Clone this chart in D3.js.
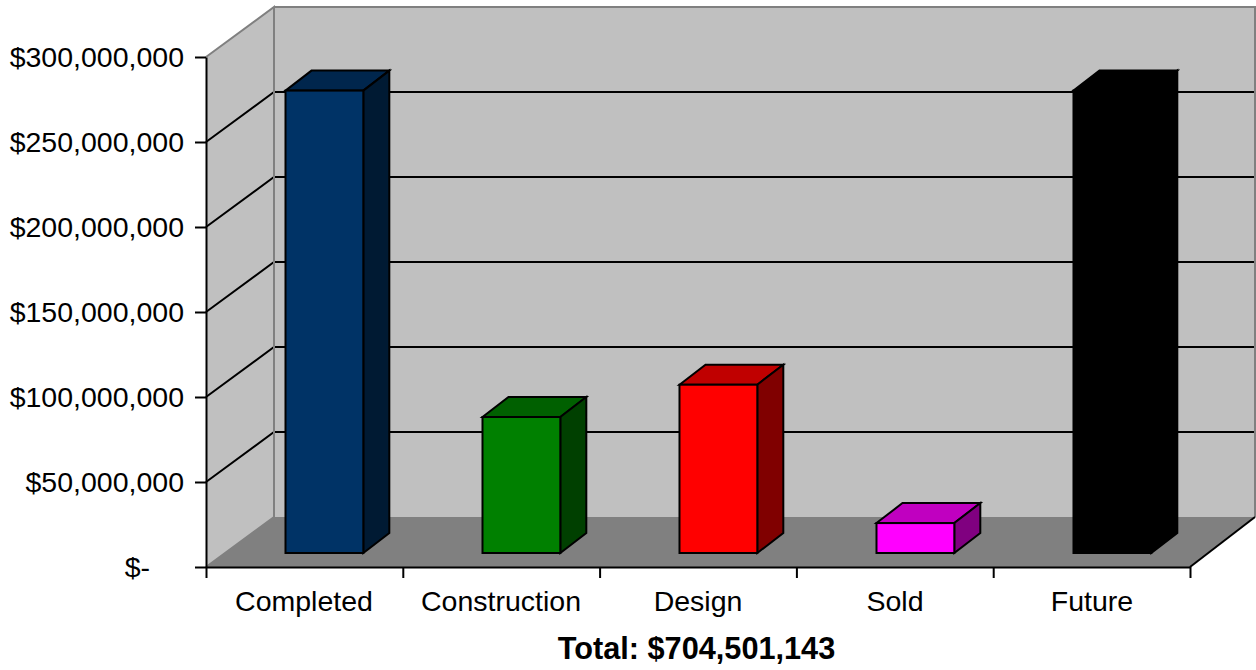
<!DOCTYPE html>
<html>
<head>
<meta charset="utf-8">
<script src="https://cdn.jsdelivr.net/npm/d3@7"></script>
<style>
  html, body { margin: 0; padding: 0; background: #fff; }
  svg { display: block; }
  text { font-family: "Liberation Sans", Arial, sans-serif; fill: #000; }
</style>
</head>
<body>
<svg id="chart"></svg>
<script>
let categories = ["Completed", "Construction", "Design", "Sold", "Future"],
    values = [272000000, 80000000, 99000000, 17600000, 272000000],
    frontColors = ["#003366", "#008000", "#ff0000", "#ff00ff", "#000000"],
    topColors = ["#00264d", "#006000", "#c00000", "#c000c0", "#000000"],
    sideColors = ["#001a33", "#004000", "#800000", "#800080", "#000000"],
    yTicks = [0, 50000000, 100000000, 150000000, 200000000, 250000000, 300000000],
    totalLabel = "Total: $704,501,143";

let margin = {top: 57, right: 66, bottom: 103, left: 206},
    fullWidth = 1256,
    fullHeight = 670,
    width = fullWidth - margin.left - margin.right,
    height = fullHeight - margin.top - margin.bottom,
    labelSize = "28.5px";

// how far the back wall is pushed from the front plane
let depthX = 68, depthY = -50,
    wallRight = width + 65;

let svg = d3.select("#chart")
  .attr("width", fullWidth)
  .attr("height", fullHeight)
  .append("g")
    .attr("transform", "translate(" + margin.left + "," + margin.top + ")");

let x = d3.scaleBand().domain(categories).range([0, width]).paddingInner(0.605).paddingOuter(0.3),
    y = d3.scaleLinear().domain([0, 300000000]).range([height, 0]);

let line = d3.line();

// Walls and floor
svg.append("path")
  .attr("d", line([[0, y(0)], [depthX, y(0) + depthY], [depthX, y(300000000) + depthY], [0, y(300000000)]]) + "Z")
  .attr("fill", "#c0c0c0");
svg.append("rect")
  .attr("x", depthX)
  .attr("y", y(300000000) + depthY)
  .attr("width", wallRight - depthX)
  .attr("height", height)
  .attr("fill", "#c0c0c0");
svg.append("path")
  .attr("d", line([[0, y(0)], [width, y(0)], [wallRight, y(0) + depthY], [depthX, y(0) + depthY]]) + "Z")
  .attr("fill", "#808080");

// Grid lines, bent round the corner of the walls
svg.selectAll(".grid")
  .data(yTicks.filter(function(d) { return d > 0 && d < 300000000; }))
  .enter().append("path")
    .attr("class", "grid")
    .attr("fill", "none")
    .attr("stroke", "#000")
    .attr("stroke-width", 2)
    .attr("d", function(d) {
      return line([[0, y(d)], [depthX, y(d) + depthY], [wallRight, y(d) + depthY]]);
    });

// Grey wall edges
svg.append("path")
  .attr("fill", "none")
  .attr("stroke", "#808080")
  .attr("stroke-width", 2)
  .attr("d", line([[0, y(0)], [depthX, y(0) + depthY], [depthX, y(300000000) + depthY], [0, y(300000000)]])
    + "M" + depthX + "," + (y(300000000) + depthY) + "H" + wallRight + "V" + (y(0) + depthY));

// Floor edge on the right
svg.append("path")
  .attr("fill", "none")
  .attr("stroke", "#000")
  .attr("stroke-width", 2)
  .attr("d", line([[width, y(0)], [wallRight, y(0) + depthY]]));

// Bars: front face, top and side
let barFrontX = 20.4,
    barFrontY = -14,
    barDepthX = 26,
    barDepthY = -20;

let bars = svg.selectAll(".bar")
  .data(categories)
  .enter().append("g")
    .attr("class", "bar")
    .attr("transform", "translate(" + barFrontX + "," + barFrontY + ")")
    .attr("stroke", "#000")
    .attr("stroke-width", 2)
    .attr("stroke-linejoin", "miter");

bars.append("path")
  .attr("fill", function(d, i) { return topColors[i]; })
  .attr("d", function(d, i) {
    let x0 = x(d), x1 = x0 + x.bandwidth(), t = y(values[i]);
    return line([[x0, t], [x0 + barDepthX, t + barDepthY], [x1 + barDepthX, t + barDepthY], [x1, t]]) + "Z";
  });

bars.append("path")
  .attr("fill", function(d, i) { return sideColors[i]; })
  .attr("d", function(d, i) {
    let x1 = x(d) + x.bandwidth(), t = y(values[i]), b = y(0);
    return line([[x1, t], [x1 + barDepthX, t + barDepthY], [x1 + barDepthX, b + barDepthY], [x1, b]]) + "Z";
  });

bars.append("rect")
  .attr("fill", function(d, i) { return frontColors[i]; })
  .attr("x", function(d) { return x(d); })
  .attr("y", function(d, i) { return y(values[i]); })
  .attr("width", x.bandwidth())
  .attr("height", function(d, i) { return y(0) - y(values[i]); });

// Add axes
let yAxis = d3.axisLeft(y)
  .tickValues(yTicks)
  .tickSize(11)
  .tickSizeOuter(0)
  .tickPadding(11)
  .tickFormat(function(d) { return d === 0 ? "$-" : d3.format("$,")(d); });

let xAxis = d3.axisBottom(d3.scaleLinear().domain([0, categories.length]).range([0, width]))
  .ticks(categories.length)
  .tickSize(11)
  .tickSizeOuter(0)
  .tickFormat("");

let yG = svg.append("g").call(yAxis);
let xG = svg.append("g").attr("transform", "translate(0," + height + ")").call(xAxis);

[yG, xG].forEach(function(g) {
  g.selectAll("path, line").attr("stroke", "#000").attr("stroke-width", 2);
  g.selectAll("text").style("font-size", labelSize).style("font-family", "Liberation Sans").attr("fill", "#000");
});

// "$-" keeps the accounting format's trailing space
yG.selectAll(".tick text")
  .filter(function(d) { return d === 0; })
  .attr("dx", -34);

// Category labels sit centred on each axis slot
svg.selectAll(".cat")
  .data(categories)
  .enter().append("text")
    .attr("class", "cat")
    .attr("x", function(d) { return x(d) + x.bandwidth() / 2; })
    .attr("y", height + 44)
    .attr("text-anchor", "middle")
    .style("font-size", labelSize)
    .text(function(d) { return d; });

svg.append("text")
  .attr("x", 490.5)
  .attr("y", height + 92)
  .attr("text-anchor", "middle")
  .style("font-size", "30.7px")
  .style("font-weight", "bold")
  .text(totalLabel);
</script>
</body>
</html>
